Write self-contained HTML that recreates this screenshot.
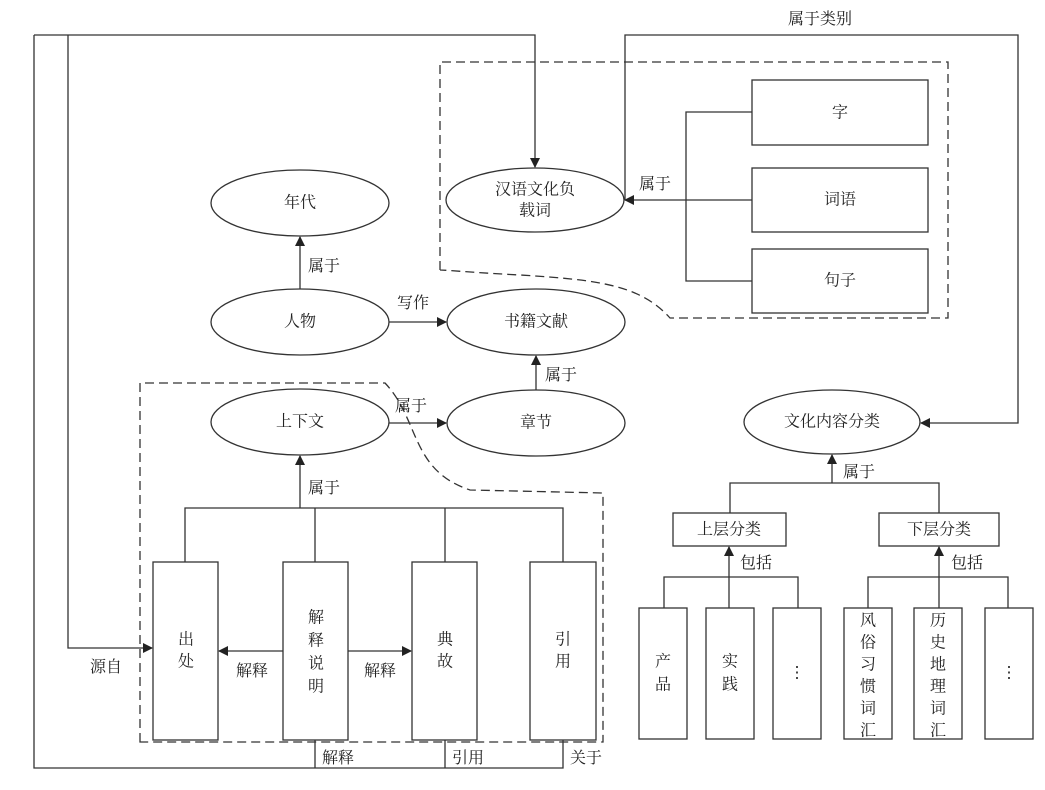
<!DOCTYPE html>
<html><head><meta charset="utf-8"><style>
html,body{margin:0;padding:0;background:#fff}
svg text{font-family:"Liberation Serif","Noto Serif CJK SC","Noto Sans CJK SC",serif;font-size:16px;fill:#222}
</style></head><body>
<svg width="1045" height="785" viewBox="0 0 1045 785" xmlns="http://www.w3.org/2000/svg">
<defs><marker id="a" markerWidth="10" markerHeight="10" refX="9" refY="5" orient="auto" markerUnits="userSpaceOnUse"><path d="M0,0 L10,5 L0,10 z" fill="#222"/></marker></defs>
<g fill="none" stroke="#333" stroke-width="1.3">
<!-- dashed regions -->
<path d="M140,742 L140,383 L385,383 C420,420 410,470 470,490 L603,493 L603,742 Z" stroke-dasharray="9,5"/>
<path d="M440,270 L440,62 L948,62 L948,318 L670,318 C640,285 600,280 520,275 C480,273 445,270 440,270" stroke-dasharray="9,5"/>
<!-- ellipses -->
<ellipse cx="300" cy="203" rx="89" ry="33"/>
<ellipse cx="300" cy="322" rx="89" ry="33"/>
<ellipse cx="536" cy="322" rx="89" ry="33"/>
<ellipse cx="300" cy="422" rx="89" ry="33"/>
<ellipse cx="536" cy="423" rx="89" ry="33"/>
<ellipse cx="535" cy="200" rx="89" ry="32"/>
<ellipse cx="832" cy="422" rx="88" ry="32"/>
<!-- boxes -->
<rect x="153" y="562" width="65" height="178"/>
<rect x="283" y="562" width="65" height="178"/>
<rect x="412" y="562" width="65" height="178"/>
<rect x="530" y="562" width="66" height="178"/>
<rect x="752" y="80" width="176" height="65"/>
<rect x="752" y="168" width="176" height="64"/>
<rect x="752" y="249" width="176" height="64"/>
<rect x="673" y="513" width="113" height="33"/>
<rect x="879" y="513" width="120" height="33"/>
<rect x="639" y="608" width="48" height="131"/>
<rect x="706" y="608" width="48" height="131"/>
<rect x="773" y="608" width="48" height="131"/>
<rect x="844" y="608" width="48" height="131"/>
<rect x="914" y="608" width="48" height="131"/>
<rect x="985" y="608" width="48" height="131"/>
<!-- connectors -->
<path d="M300,289 L300,237" marker-end="url(#a)"/>
<path d="M389,322 L446,322" marker-end="url(#a)"/>
<path d="M536,390 L536,356" marker-end="url(#a)"/>
<path d="M389,423 L446,423" marker-end="url(#a)"/>
<path d="M185,562 L185,508 L563,508 L563,562 M315,508 L315,562 M445,508 L445,562"/>
<path d="M300,508 L300,456" marker-end="url(#a)"/>
<path d="M283,651 L219,651" marker-end="url(#a)"/>
<path d="M348,651 L411,651" marker-end="url(#a)"/>
<path d="M68,35 L68,648 L152,648" marker-end="url(#a)"/>
<path d="M34,35 L535,35 L535,167" marker-end="url(#a)"/>
<path d="M34,35 L34,768 L563,768 L563,740 M315,740 L315,768 M445,740 L445,768"/>
<path d="M752,112 L686,112 L686,281 L752,281"/>
<path d="M752,200 L625,200" marker-end="url(#a)"/>
<path d="M625,200 L625,35 L1018,35 L1018,423 L921,423" marker-end="url(#a)"/>
<path d="M730,513 L730,483 L939,483 L939,513"/>
<path d="M832,483 L832,455" marker-end="url(#a)"/>
<path d="M664,608 L664,577 L798,577 L798,608"/>
<path d="M729,608 L729,547" marker-end="url(#a)"/>
<path d="M868,608 L868,577 L1008,577 L1008,608"/>
<path d="M939,608 L939,547" marker-end="url(#a)"/>
</g>
<g text-anchor="middle" dominant-baseline="central">
<text x="300" y="203">年代</text>
<text x="300" y="322">人物</text>
<text x="536" y="322">书籍文献</text>
<text x="300" y="422">上下文</text>
<text x="536" y="423">章节</text>
<text x="535" y="190">汉语文化负</text>
<text x="535" y="211">载词</text>
<text x="832" y="422">文化内容分类</text>
<text x="840" y="113">字</text>
<text x="840" y="200">词语</text>
<text x="840" y="281">句子</text>
<text x="729" y="530">上层分类</text>
<text x="939" y="530">下层分类</text>
<text x="186" y="640">出</text><text x="186" y="662">处</text>
<text x="316" y="618">解</text><text x="316" y="641">释</text><text x="316" y="664">说</text><text x="316" y="687">明</text>
<text x="445" y="640">典</text><text x="445" y="662">故</text>
<text x="563" y="640">引</text><text x="563" y="662">用</text>
<text x="663" y="662">产</text><text x="663" y="685">品</text>
<text x="730" y="662">实</text><text x="730" y="685">践</text>
<text x="797" y="673">⋮</text>
<text x="868" y="621">风</text><text x="868" y="643">俗</text><text x="868" y="665">习</text><text x="868" y="687">惯</text><text x="868" y="709">词</text><text x="868" y="731">汇</text>
<text x="938" y="621">历</text><text x="938" y="643">史</text><text x="938" y="665">地</text><text x="938" y="687">理</text><text x="938" y="709">词</text><text x="938" y="731">汇</text>
<text x="1009" y="673">⋮</text>
</g>
<g>
<text x="308" y="271">属于</text>
<text x="397" y="308">写作</text>
<text x="545" y="380">属于</text>
<text x="395" y="411">属于</text>
<text x="308" y="493">属于</text>
<text x="90" y="672">源自</text>
<text x="236" y="676">解释</text>
<text x="364" y="676">解释</text>
<text x="322" y="763">解释</text>
<text x="452" y="763">引用</text>
<text x="570" y="763">关于</text>
<text x="639" y="189">属于</text>
<text x="788" y="24">属于类别</text>
<text x="843" y="477">属于</text>
<text x="740" y="568">包括</text>
<text x="951" y="568">包括</text>
</g>
</svg>
</body></html>
